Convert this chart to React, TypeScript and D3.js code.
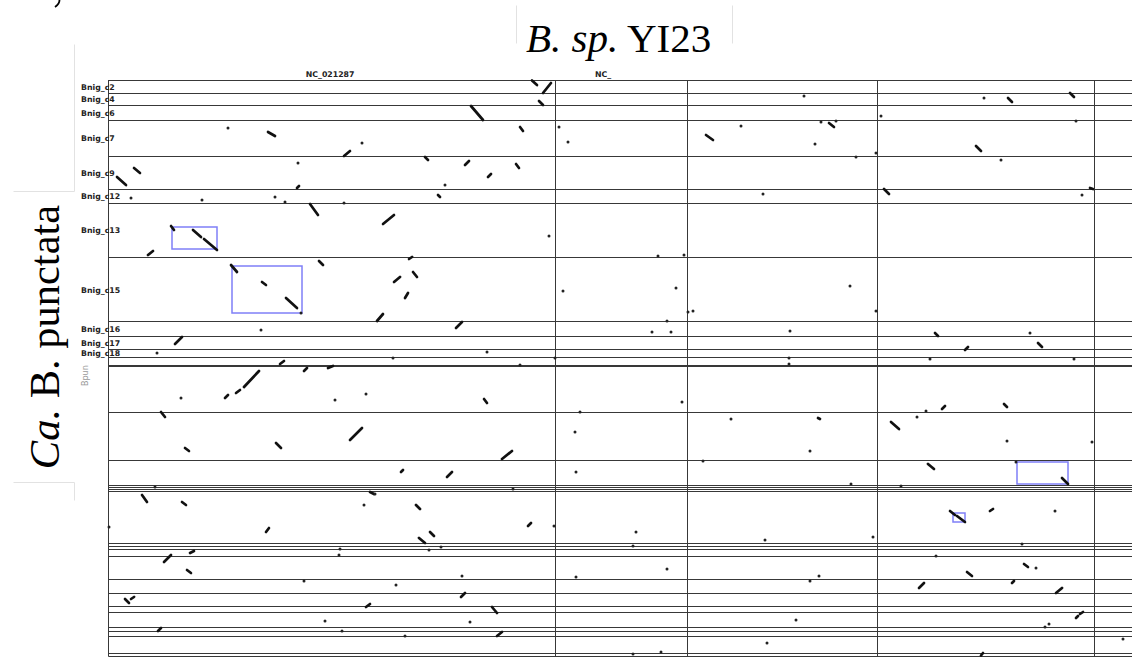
import React, { useEffect, useRef } from 'react';
import * as d3 from 'd3';

// reference (B. sp. YI23) replicons, kb
const refNames = ['NC_021287', 'NC_', '', '', ''];
const refLengths = [3572, 1056, 1520, 1736, 448];

// query (Ca. B. punctata / Bnig) contigs, kb
const qryNames = [
  'Bnig_c2', 'Bnig_c4', 'Bnig_c6', 'Bnig_c7', 'Bnig_c9', 'Bnig_c12', 'Bnig_c13', 'Bnig_c15',
  'Bnig_c16', 'Bnig_c17', 'Bnig_c18',
];
const qryLengths = [
  53, 47, 63, 142, 132, 57, 216, 257, 58, 52, 34, 29, 6, 182, 194, 98, 8, 8, 8, 210, 10, 14, 26,
  94, 57, 52, 21, 63, 16, 20, 66, 11,
];

// alignment hits: [refStart, qryStart, refEnd, qryEnd] in kb
const hits = [
  [1276, 208, 1332, 224], [1884, 304, 1932, 284], [204, 352, 252, 372], [68, 388, 140, 420],
  [1612, 496, 1676, 540], [2900, 104, 2996, 160], [3444, 84, 3476, 100], [3292, 188, 3316, 204],
  [2532, 308, 2556, 320], [2852, 340, 2884, 324], [3260, 336, 3284, 352], [3036, 388, 3060, 376],
  [1508, 432, 1524, 424], [2636, 460, 2652, 468], [2196, 576, 2284, 540], [500, 584, 524, 600],
  [676, 600, 740, 628], [764, 636, 868, 680], [316, 700, 356, 684], [980, 740, 1028, 768],
  [1228, 808, 1260, 820], [1420, 872, 1508, 912], [1684, 724, 1716, 740], [2404, 716, 2428, 708],
  [2284, 808, 2332, 788], [2436, 768, 2468, 788], [2372, 872, 2396, 852], [2148, 964, 2196, 936],
  [2780, 992, 2828, 968], [532, 1056, 588, 1028], [3388, 2, 3428, 20], [3476, 52, 3540, 12],
  [4780, 220, 4836, 240], [7196, 72, 7228, 88], [7692, 52, 7724, 68], [5764, 172, 5804, 188],
  [6940, 264, 6980, 284], [6204, 436, 6244, 456], [7852, 432, 7876, 436], [6612, 1012, 6636, 1024],
  [6852, 1080, 6876, 1068], [7436, 1052, 7468, 1068], [5676, 1352, 5692, 1356], [6260, 1368, 6324, 1396],
  [6668, 1316, 6692, 1304], [7164, 1296, 7188, 1308], [6556, 1536, 6604, 1556], [7628, 1592, 7676, 1616],
  [6732, 1724, 6772, 1740], [6788, 1744, 6852, 1768], [7052, 1724, 7076, 1716], [7324, 1936, 7356, 1948],
  [6868, 1968, 6908, 1984], [6484, 2032, 6524, 2012], [7228, 2012, 7244, 2004], [7580, 2052, 7628, 2032],
  [7740, 2152, 7756, 2144], [7772, 2136, 7796, 2128], [6980, 2302, 6996, 2292], [1372, 1136, 1404, 1124],
  [1564, 1164, 1588, 1152], [1756, 1152, 1796, 1144], [1084, 1228, 1204, 1164], [1020, 1252, 1052, 1240],
  [932, 1272, 956, 1260], [3004, 1276, 3028, 1292], [420, 1328, 452, 1348], [612, 1472, 644, 1484],
  [1340, 1452, 1380, 1472], [1932, 1440, 2028, 1392], [3148, 1516, 3228, 1484], [2340, 1568, 2356, 1560],
  [2708, 1588, 2748, 1568], [2092, 1648, 2124, 1656], [268, 1660, 308, 1688], [588, 1688, 620, 1700],
  [2460, 1700, 2492, 1716], [1260, 1808, 1284, 1792], [3356, 1784, 3380, 1772], [2484, 1832, 2532, 1852],
  [2572, 1808, 2604, 1824], [444, 1928, 500, 1900], [652, 1892, 684, 1884], [628, 1960, 660, 1972],
  [2820, 2068, 2852, 2052], [132, 2076, 164, 2092], [180, 2076, 204, 2068], [2060, 2108, 2092, 2096],
  [3068, 2108, 3108, 2132], [396, 2204, 420, 2192], [3108, 2224, 3148, 2208],
];

// short hits, [ref, qry] kb
const dots = [
  [956, 192], [2028, 252], [1516, 332], [180, 472], [748, 480], [1332, 468], [1412, 488], [1884, 492],
  [2692, 420], [3524, 624], [1540, 932], [1220, 1000], [388, 1092], [3028, 1088], [2276, 1112],
  [3604, 188], [3676, 248], [5060, 184], [5564, 64], [7004, 72], [6180, 144], [5700, 168], [5820, 164],
  [7740, 164], [5652, 256], [5980, 308], [6140, 292], [7140, 320], [5236, 456], [7788, 460], [4396, 704],
  [4604, 700], [3636, 844], [4540, 832], [5932, 824], [4636, 928], [4676, 924], [6140, 924], [4468, 964],
  [4348, 1008], [4500, 1008], [5452, 1004], [7372, 1012], [3572, 1112], [5444, 1112], [6572, 1116],
  [7724, 1116], [5444, 1136], [4588, 1288], [3772, 1328], [3732, 1408], [4980, 1356], [5612, 1484],
  [6468, 1348], [6540, 1324], [7188, 1444], [7868, 1448], [4756, 1524], [3740, 1568], [7260, 1528],
  [5940, 1616], [6340, 1624], [3564, 1784], [4220, 1808], [4196, 1864], [5252, 1840], [6116, 1828],
  [7572, 1724], [7308, 1856], [6620, 1904], [7420, 1952], [4468, 1956], [3740, 1988], [5684, 1984],
  [5612, 2004], [5500, 2160], [7492, 2188], [7524, 2176], [8116, 2236], [5268, 2252], [4196, 2296],
  [4420, 2288], [3292, 1140], [580, 1272], [1812, 1280], [2060, 1256], [372, 1628], [2132, 1656],
  [3236, 1636], [2044, 1700], [4, 1788], [1852, 1876], [1844, 1900], [2564, 1880], [2660, 1868],
  [1564, 2004], [2300, 2020], [2828, 1984], [1732, 2164], [2892, 2168], [1868, 2204], [2372, 2224],
];

// highlighted syntenic blocks: [ref0, ref1, qry0, qry1]
const boxes = [
  [508, 868, 588, 676], [988, 1548, 744, 932], [7268, 7676, 1528, 1616], [6756, 6852, 1732, 1768],
];

const W = 1132;
const H = 659;

const App = () => {
  const ref = useRef<SVGSVGElement>(null);

  useEffect(() => {
    const svg = d3.select(ref.current);
    svg.selectAll('*').remove();

    const x = d3.scaleLinear().domain([0, d3.sum(refLengths)]).range([108.5, 1150]);
    const y = d3.scaleLinear().domain([0, d3.sum(qryLengths)]).range([80, 656]);
    const xb = [0, ...d3.cumsum(refLengths)];
    const yb = [0, ...d3.cumsum(qryLengths)];
    const snap = (v: number) => Math.round(v - 0.5) + 0.5;

    // faint frame leftovers from the figure panels
    const faint = [
      [516, 5, 516, 43], [732, 5, 732, 43], [74, 44, 74, 191], [13, 191, 74, 191],
      [13, 482, 74, 482], [74, 482, 74, 500],
    ];
    svg.append('g').selectAll('line').data(faint).join('line')
      .attr('x1', d => d[0] + 0.5).attr('y1', d => d[1] + 0.5)
      .attr('x2', d => d[2] + 0.5).attr('y2', d => d[3] + 0.5)
      .attr('stroke', '#e2e2e2').attr('stroke-width', 1);

    // panel letter remnant, top-left corner
    svg.append('path')
      .attr('d', 'M59.5,0 C59.5,3 58,5 55,7')
      .attr('fill', 'none').attr('stroke', '#000').attr('stroke-width', 1.8);

    // contig boundaries
    const grid = svg.append('g').attr('stroke', '#383838').attr('stroke-width', 1);
    grid.selectAll('line.h').data(yb).join('line').attr('class', 'h')
      .attr('x1', x(0)).attr('x2', W)
      .attr('y1', d => snap(y(d))).attr('y2', d => snap(y(d)));
    grid.selectAll('line.v').data(xb).join('line').attr('class', 'v')
      .attr('y1', y(0)).attr('y2', snap(y(d3.sum(qryLengths))))
      .attr('x1', d => snap(x(d))).attr('x2', d => snap(x(d)));

    // column labels
    svg.append('g').selectAll('text').data(refNames).join('text')
      .attr('x', (d, i) => (x(xb[i]) + x(xb[i + 1])) / 2 - 26)
      .attr('y', 77)
      .attr('font-family', 'DejaVu Sans').attr('font-weight', 'bold').attr('font-size', 7.8)
      .attr('fill', '#222')
      .text(d => d);

    // row labels
    svg.append('g').selectAll('text').data(qryNames).join('text')
      .attr('x', 81)
      .attr('y', (d, i) => (y(yb[i]) + y(yb[i + 1])) / 2 + 2.9)
      .attr('font-family', 'DejaVu Sans').attr('font-weight', 'bold').attr('font-size', 7.8)
      .attr('fill', '#222')
      .text(d => d);

    svg.append('text')
      .attr('transform', 'translate(88,386) rotate(-90)')
      .attr('font-family', 'DejaVu Sans').attr('font-size', 8)
      .attr('fill', '#9a9a9a')
      .text('Bpun');

    // blocks
    svg.append('g').selectAll('rect').data(boxes).join('rect')
      .attr('x', d => x(d[0])).attr('y', d => y(d[2]))
      .attr('width', d => x(d[1]) - x(d[0])).attr('height', d => y(d[3]) - y(d[2]))
      .attr('fill', 'none').attr('stroke', '#7f7ff7').attr('stroke-width', 1.5);

    // hits
    svg.append('g').selectAll('line').data(hits).join('line')
      .attr('x1', d => x(d[0])).attr('y1', d => y(d[1]))
      .attr('x2', d => x(d[2])).attr('y2', d => y(d[3]))
      .attr('stroke', '#111').attr('stroke-width', 2.7).attr('stroke-linecap', 'round');

    svg.append('g').selectAll('circle').data(dots).join('circle')
      .attr('cx', d => x(d[0])).attr('cy', d => y(d[1]))
      .attr('r', 1.5).attr('fill', '#222');

    // titles
    const title = svg.append('text')
      .attr('x', 526).attr('y', 52)
      .attr('font-family', 'Liberation Serif').attr('font-size', 41).attr('fill', '#000');
    title.append('tspan').attr('font-style', 'italic').text('B. sp.');
    title.append('tspan').text(' YI23');

    const side = svg.append('text')
      .attr('transform', 'translate(59,337) rotate(-90)')
      .attr('text-anchor', 'middle')
      .attr('font-family', 'Liberation Serif').attr('font-size', 42.5).attr('fill', '#000');
    side.append('tspan').attr('font-style', 'italic').text('Ca.');
    side.append('tspan').text(' B. punctata');
  }, []);

  return (
    <svg
      ref={ref}
      width={W}
      height={H}
      style={{ position: 'absolute', left: 0, top: 0, background: '#fff' }}
    />
  );
};

export default App;
